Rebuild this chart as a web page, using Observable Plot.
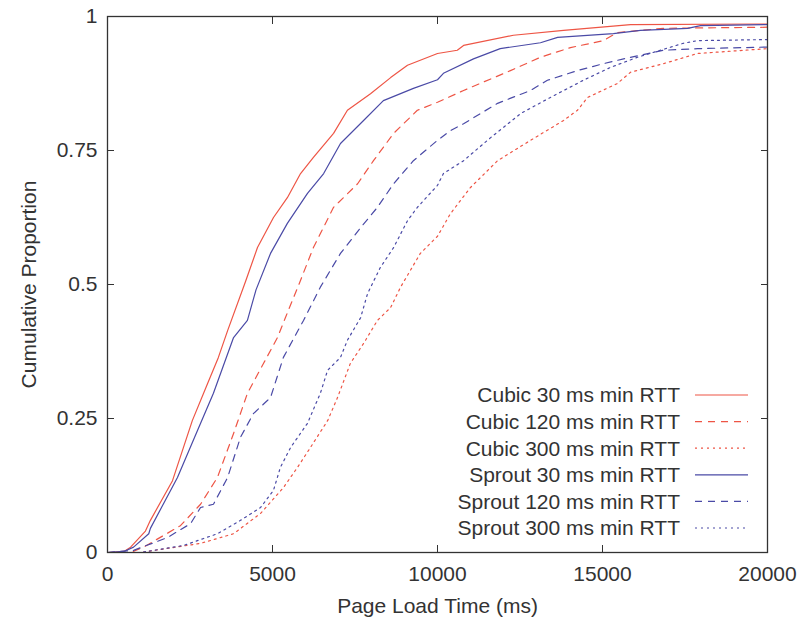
<!DOCTYPE html>
<html><head><meta charset="utf-8">
<script src="https://cdn.jsdelivr.net/npm/d3@7"></script>
<script src="https://cdn.jsdelivr.net/npm/@observablehq/plot@0.6"></script>
<style>
body{margin:0;background:#fff;}
#wrap{position:relative;width:800px;height:621px;font-family:"Liberation Sans",Arial,sans-serif;}
#legend{position:absolute;left:0;top:0;}
</style></head>
<body><div id="wrap"></div>
<script>
const seriesNames = ["Cubic 30 ms min RTT","Cubic 120 ms min RTT","Cubic 300 ms min RTT","Sprout 30 ms min RTT","Sprout 120 ms min RTT","Sprout 300 ms min RTT"];
const seriesColors = ["#ee5545","#ee5545","#ee5545","#4a4aa6","#4a4aa6","#4a4aa6"];
const seriesDash = ["none","7,6","2,4","none","7,6","2,4"];

const cubic30X = [0,500,700,1150,1300,1970,2570,3030,3360,3640,4180,4545,5030,5450,5850,6240,6850,7270,7970,8580,9090,10000,10600,10790,12300,13820,15850,20000];
const cubic30Y = [0,0.002,0.01,0.04,0.06,0.134,0.246,0.315,0.364,0.414,0.505,0.569,0.625,0.662,0.707,0.737,0.782,0.825,0.856,0.886,0.909,0.931,0.937,0.946,0.965,0.974,0.985,0.986];

const cubic120X = [0,700,1090,2210,2820,3330,3820,4240,4730,5150,5390,5800,6240,6850,7580,8060,8670,9390,10000,10790,12210,13120,14030,15030,15450,16850,20000];
const cubic120Y = [0,0,0.01,0.05,0.09,0.14,0.222,0.297,0.353,0.401,0.438,0.5,0.569,0.644,0.688,0.731,0.782,0.825,0.84,0.862,0.899,0.924,0.942,0.955,0.97,0.978,0.98];

const cubic300X = [0,1000,2820,3820,4640,5330,5760,6150,6670,6970,7360,7760,8180,8580,8880,9480,10000,10390,11000,11820,12820,13820,14240,14550,15450,15850,16850,17880,20000];
const cubic300Y = [0,0,0.017,0.035,0.073,0.121,0.159,0.196,0.246,0.289,0.353,0.39,0.433,0.457,0.495,0.558,0.59,0.632,0.681,0.731,0.769,0.806,0.825,0.849,0.875,0.896,0.912,0.931,0.94];

const sprout30X = [0,500,790,1250,1300,2120,2730,3210,3820,4240,4500,4940,5450,6060,6550,7060,7760,8360,9270,10000,10180,11090,11900,13120,13640,15330,16150,17580,17970,20000];
const sprout30Y = [0,0.002,0.01,0.035,0.045,0.14,0.228,0.297,0.401,0.433,0.49,0.558,0.614,0.67,0.707,0.763,0.806,0.843,0.866,0.882,0.894,0.921,0.94,0.951,0.961,0.968,0.974,0.978,0.983,0.985];

const sprout120X = [0,790,1820,2520,2820,3210,3640,4030,4420,4940,5330,5940,6450,7060,7670,8180,8670,9270,10000,10390,10790,11820,12820,13330,14240,15030,15640,16850,17880,20000];
const sprout120Y = [0,0.004,0.028,0.054,0.084,0.09,0.14,0.215,0.259,0.289,0.364,0.433,0.495,0.558,0.606,0.644,0.688,0.731,0.769,0.787,0.8,0.838,0.862,0.881,0.899,0.912,0.921,0.937,0.94,0.943];

const sprout300X = [0,1000,2300,3330,4030,4640,5030,5240,5550,6060,6450,6670,7060,7270,7670,7880,8270,8670,9090,9390,10000,10180,10790,11610,12520,13420,14420,15240,16060,17450,17880,20000];
const sprout300Y = [0,0,0.013,0.035,0.06,0.084,0.116,0.159,0.196,0.241,0.297,0.34,0.364,0.396,0.438,0.483,0.532,0.569,0.619,0.644,0.685,0.707,0.731,0.774,0.819,0.849,0.881,0.905,0.924,0.95,0.955,0.957];

const xTicks = [0,5000,10000,15000,20000];
const yTicks = [0,0.25,0.5,0.75,1];
const yTickLabels = ["0","0.25","0.5","0.75","1"];

const allX = [cubic30X,cubic120X,cubic300X,sprout30X,sprout120X,sprout300X];
const allY = [cubic30Y,cubic120Y,cubic300Y,sprout30Y,sprout120Y,sprout300Y];
const rows = [];
allX.forEach((xs,i)=>xs.forEach((x,j)=>rows.push({series:seriesNames[i],x,y:allY[i][j]})));

const marks = [];
seriesNames.forEach((name,i)=>{
  marks.push(Plot.line(rows.filter(d=>d.series===name),{x:"x",y:"y",stroke:seriesColors[i],strokeWidth:1.2,strokeDasharray:seriesDash[i]==="none"?null:seriesDash[i]}));
});
const fmtY = d => yTickLabels[yTicks.indexOf(d)];
const FS = 21;
marks.push(
  Plot.axisX({ticks:xTicks,tickSize:-7,tickFormat:()=>"",stroke:"#333",label:null}),
  Plot.axisX({anchor:"top",ticks:xTicks,tickSize:-7,tickFormat:()=>"",stroke:"#333",label:null}),
  Plot.axisX({ticks:xTicks,tickSize:0,tickPadding:14,tickFormat:d3.format("d"),fontSize:FS,fill:"#333",label:"Page Load Time (ms)",labelAnchor:"center",labelArrow:"none",labelOffset:60}),
  Plot.axisY({ticks:yTicks,tickSize:-7,tickFormat:()=>"",stroke:"#333",label:null}),
  Plot.axisY({anchor:"right",ticks:yTicks,tickSize:-7,tickFormat:()=>"",stroke:"#333",label:null}),
  Plot.axisY({ticks:yTicks,tickSize:0,tickPadding:10,tickFormat:fmtY,fontSize:FS,fill:"#333",label:"Cumulative Proportion",labelAnchor:"center",labelArrow:"none",labelOffset:86}),
  Plot.frame({stroke:"#333",strokeWidth:1.3})
);

const plot = Plot.plot({
  width:800,height:621,
  marginLeft:107,marginRight:33,marginTop:16,marginBottom:69,
  x:{domain:[0,20000]},
  y:{domain:[0,1]},
  style:{fontFamily:"'Liberation Sans',Arial,sans-serif",fontSize:FS+"px",color:"#333",background:"#fff"},
  marks
});
document.getElementById("wrap").appendChild(plot);

// legend overlay
const lg=d3.select("#wrap").append("svg").attr("id","legend").attr("width",800).attr("height",621);
seriesNames.forEach((name,i)=>{
  const y=395+i*26.6;
  lg.append("text").attr("x",680).attr("y",y).attr("dy","0.35em").attr("text-anchor","end")
    .attr("font-size",FS).attr("fill","#333").attr("font-family","'Liberation Sans',Arial,sans-serif").text(name);
  const l=lg.append("line").attr("x1",695).attr("x2",748).attr("y1",y).attr("y2",y)
    .attr("stroke",seriesColors[i]).attr("stroke-width",1.2);
  if(seriesDash[i]!=="none") l.attr("stroke-dasharray",seriesDash[i]);
});
</script></body></html>
